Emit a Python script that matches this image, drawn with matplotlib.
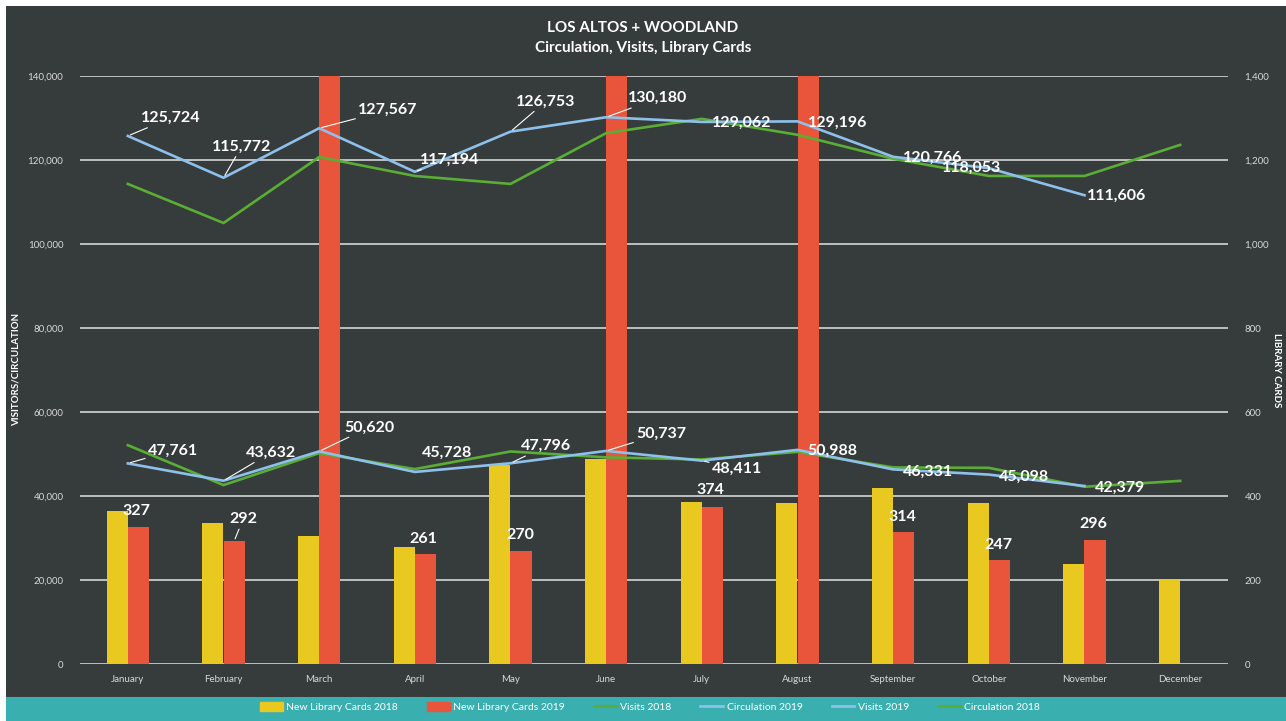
import numpy as np
import matplotlib
matplotlib.use('agg')
import matplotlib.pyplot as plt
from matplotlib.patches import Rectangle, Patch
from matplotlib.lines import Line2D

plt.rcParams['font.family'] = ['Lato', 'DejaVu Sans']

months = ['January', 'February', 'March', 'April', 'May', 'June', 'July',
          'August', 'September', 'October', 'November', 'December']

cards_2018 = [364, 335, 305, 278, 474, 487, 386, 383, 419, 383, 237, 203]
# March, June and August 2019 run off the top of the chart (no label shown)
cards_2019 = [327, 292, 1500, 261, 270, 1500, 374, 1500, 314, 247, 296, np.nan]
card_labels_2019 = ['327', '292', '', '261', '270', '', '374', '', '314', '247', '296', '']

circ_2018 = [114300, 105000, 120700, 116200, 114300, 126400, 129800, 126000,
             120300, 116200, 116200, 123600]
circ_2019 = [125724, 115772, 127567, 117194, 126753, 130180, 129062, 129196,
             120766, 118053, 111606, np.nan]
visits_2018 = [52100, 42600, 50200, 46400, 50600, 49200, 48700, 50500,
               46800, 46700, 42200, 43600]
visits_2019 = [47761, 43632, 50620, 45728, 47796, 50737, 48411, 50988,
               46331, 45098, 42379, np.nan]

# label offsets in pixels (dx, dy, align, leader line)
circ_offsets = [(13, 18, 'left', True), (18, 31, 'center', True), (39, 18, 'left', True),
                (5, 12, 'left', True), (35, 30, 'center', True), (22, 19, 'left', True),
                (10, -1, 'left', False), (10, -1, 'left', False), (10, -1, 'left', False),
                (-17, 0, 'center', False), (2, -1, 'left', False)]
visit_offsets = [(20, 13, 'left', True), (22, 28, 'left', True), (25, 24, 'left', True),
                 (7, 19, 'left', False), (10, 17, 'left', True), (30, 17, 'left', True),
                 (10, -8, 'left', True), (10, -1, 'left', False), (10, -2, 'left', False),
                 (10, -2, 'left', False), (10, -2, 'left', False)]
card_offsets = [(-2, 16, False), (9, 22, True), None, (-2, 15, False), (-1, 16, False),
                None, (-2, 17, False), None, (-1, 15, False), (-1, 15, False), (-2, 16, False), None]

BG = '#363c3c'
TEAL = '#3aafb0'
YELLOW = '#e9c820'
RED = '#e8553a'
BLUE = '#8ec0ec'
GREEN = '#5aae35'
GRID = '#d6d6d6'
TXT = '#d8d8d8'

W, H = 1286, 721
fig = plt.figure(figsize=(W / 100, H / 100), dpi=100, facecolor='white')
fig.patches.append(Rectangle((6 / W, 24 / H), 1 - 6 / W, 1 - 30 / H,
                             transform=fig.transFigure, facecolor=BG, edgecolor='none', zorder=-5))
fig.patches.append(Rectangle((6 / W, 0), 1 - 6 / W, 24 / H,
                             transform=fig.transFigure, facecolor=TEAL, edgecolor='none', zorder=-5))

ax = fig.add_axes([80 / W, 57 / H, 1148 / W, 588 / H])
ax2 = ax.twinx()
ax.set_zorder(ax2.get_zorder() + 1)
ax.patch.set_visible(False)
ax2.patch.set_visible(False)

x = np.arange(len(months))
bw = 0.22
ax2.bar(x - bw / 2, cards_2018, bw, color=YELLOW, zorder=3)
ax2.bar(x + bw / 2, cards_2019, bw, color=RED, zorder=3)
ax2.set_ylim(0, 1400)
ax2.set_yticks(np.arange(0, 1401, 200))
ax2.set_yticklabels(['{:,}'.format(v) for v in range(0, 1401, 200)])
ax2.grid(axis='y', color=GRID, lw=1.2, zorder=0)
ax2.set_axisbelow(True)

ax.plot(x, visits_2018, color=GREEN, lw=1.9)
ax.plot(x, circ_2018, color=GREEN, lw=1.9)
ax.plot(x, visits_2019, color=BLUE, lw=1.9)
ax.plot(x, circ_2019, color=BLUE, lw=1.9)
ax.set_ylim(0, 140000)
ax.set_xlim(-0.5, 11.5)
ax.set_yticks(np.arange(0, 140001, 20000))
ax.set_yticklabels(['{:,}'.format(v) for v in range(0, 140001, 20000)])
ax.set_xticks(x)
ax.set_xticklabels(months)
ax.grid(False)

for a in (ax, ax2):
    for s in a.spines.values():
        s.set_visible(False)
    a.tick_params(length=0, colors=TXT, labelsize=7)
ax.tick_params(axis='y', pad=12)
ax.tick_params(axis='x', pad=8)
ax2.tick_params(axis='y', pad=12)


def label(axis, xv, yv, text, dx, dy, ha, leader):
    kw = dict(xy=(xv, yv), xytext=(dx, dy), textcoords='offset pixels',
              ha=ha, va='center', color='white', fontsize=11.5, fontweight='bold')
    if leader:
        kw['arrowprops'] = dict(arrowstyle='-', color='white', lw=0.8,
                                shrinkA=0, shrinkB=2)
    axis.annotate(text, **kw)


for i, v in enumerate(circ_2019):
    if np.isnan(v):
        continue
    dx, dy, ha, ld = circ_offsets[i]
    label(ax, x[i], v, '{:,}'.format(v), dx, dy, ha, ld)

for i, v in enumerate(visits_2019):
    if np.isnan(v):
        continue
    dx, dy, ha, ld = visit_offsets[i]
    label(ax, x[i], v, '{:,}'.format(v), dx, dy, ha, ld)

for i, t in enumerate(card_labels_2019):
    if not t:
        continue
    dx, dy, ld = card_offsets[i]
    label(ax2, x[i] + bw / 2, cards_2019[i], t, dx, dy, 'center', ld)

fig.text(643 / W, 1 - 28 / H, 'LOS ALTOS + WOODLAND', ha='center', va='center',
         color='white', fontsize=11, fontweight='bold')
fig.text(643 / W, 1 - 48 / H, 'Circulation, Visits, Library Cards', ha='center', va='center',
         color='white', fontsize=11, fontweight='bold')
fig.text(16 / W, 1 - 370 / H, 'VISITORS/CIRCULATION', rotation=90, ha='center', va='center',
         color='white', fontsize=7, fontweight='bold')
fig.text(1277 / W, 1 - 370 / H, 'LIBRARY CARDS', rotation=270, ha='center', va='center',
         color='white', fontsize=7, fontweight='bold')

handles = [Patch(color=YELLOW), Patch(color=RED),
           Line2D([], [], color=GREEN, lw=2), Line2D([], [], color=BLUE, lw=2),
           Line2D([], [], color=BLUE, lw=2), Line2D([], [], color=GREEN, lw=2)]
names = ['New Library Cards 2018', 'New Library Cards 2019', 'Visits 2018',
         'Circulation 2019', 'Visits 2019', 'Circulation 2018']
leg = fig.legend(handles, names, loc='center', bbox_to_anchor=(650 / W, 1 - 707 / H),
                 ncol=6, frameon=False, fontsize=7.5, handlelength=2.2, handleheight=0.9,
                 handletextpad=0.3, columnspacing=2.8)
for t in leg.get_texts():
    t.set_color('white')

fig.savefig('out.png', dpi=100, facecolor=fig.get_facecolor())
